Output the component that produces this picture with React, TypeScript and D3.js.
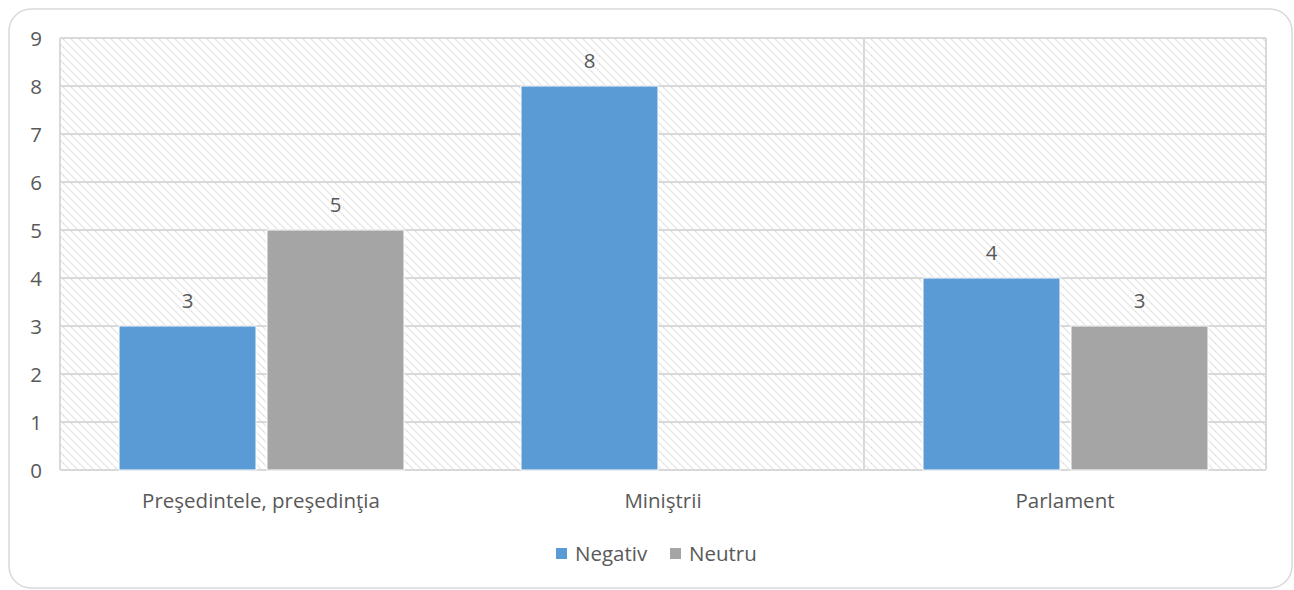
import React from "react";
import * as d3 from "d3";

const categories = ["Preşedintele, preşedinţia", "Miniştrii", "Parlament"];
const seriesNames = ["Negativ", "Neutru"];
const negativ = [3, 8, 4];
const neutru: (number | null)[] = [5, null, 3];
const yTicks = [0, 1, 2, 3, 4, 5, 6, 7, 8, 9];
const colors = ["#5b9bd5", "#a5a5a5"];

export default function App() {
  const W = 1294, H = 590;
  const left = 60, right = 1266, top = 38, bottom = 470;
  const x0 = d3.scaleBand<string>().domain(categories).range([left, right]).paddingInner(0).paddingOuter(0);
  const x1 = d3.scaleBand<string>().domain(seriesNames).range([59, 344]).paddingInner(2 - 285 / 148).paddingOuter(0);
  const y = d3.scaleLinear().domain([0, 9]).range([bottom, top]);
  const font = "'Open Sans', sans-serif";
  const fs = 20.5;
  const txt = "#595959";
  const series = [negativ, neutru];
  return (
    <svg width={W} height={H} style={{ position: "absolute", left: 0, top: 0 }}>
      <defs>
        <pattern id="hatch" width="8" height="8" patternUnits="userSpaceOnUse">
          <rect width="8" height="8" fill="#fff" />
          <path d="M-2,-2 L10,10 M-2,6 L2,10 M6,-2 L10,2" stroke="#dedede" strokeWidth="1.5" strokeDasharray="1.5,1" />
        </pattern>
      </defs>
      <rect x={0} y={0} width={W} height={H} fill="#fff" />
      <rect x={9} y={9} width={1283} height={579} rx={22} ry={22} fill="#fff" stroke="#d9d9d9" strokeWidth={1.5} />
      <rect x={left} y={top} width={right - left} height={bottom - top} fill="url(#hatch)" />
      {yTicks.map((t) => (
        <line key={t} x1={left} x2={right} y1={y(t)} y2={y(t)} stroke="#d9d9d9" strokeWidth={2} />
      ))}
      <line x1={left} x2={left} y1={top} y2={bottom} stroke="#d9d9d9" strokeWidth={2} />
      <line x1={right} x2={right} y1={top} y2={bottom} stroke="#d9d9d9" strokeWidth={2} />
      <line x1={x0(categories[2])!} x2={x0(categories[2])!} y1={top} y2={bottom} stroke="#d9d9d9" strokeWidth={2} />
      {categories.map((c, i) =>
        series.map((s, j) => {
          const v = s[i];
          if (v == null) return null;
          const bx = x0(c)! + x1(seriesNames[j])!;
          return (
            <g key={c + j}>
              <rect x={bx} y={y(v)} width={x1.bandwidth()} height={y(0) - y(v)} fill={colors[j]} stroke="#fff" strokeWidth={1} />
              <text x={bx + x1.bandwidth() / 2} y={y(v) - 18} textAnchor="middle" fontFamily={font} fontSize={fs} fill={txt}>{v}</text>
            </g>
          );
        })
      )}
      {yTicks.map((t) => (
        <text key={t} x={42} y={y(t) + 7.5} textAnchor="end" fontFamily={font} fontSize={fs} fill={txt}>{t}</text>
      ))}
      {categories.map((c) => (
        <text key={c} x={x0(c)! + x0.bandwidth() / 2} y={508} textAnchor="middle" fontFamily={font} fontSize={fs} fill={txt}>{c}</text>
      ))}
      {seriesNames.map((s, j) => {
        const lx = [556, 670][j];
        return (
          <g key={s}>
            <rect x={lx} y={548} width={11} height={11} fill={colors[j]} />
            <text x={lx + 19} y={561} fontFamily={font} fontSize={fs} fill={txt}>{s}</text>
          </g>
        );
      })}
    </svg>
  );
}
